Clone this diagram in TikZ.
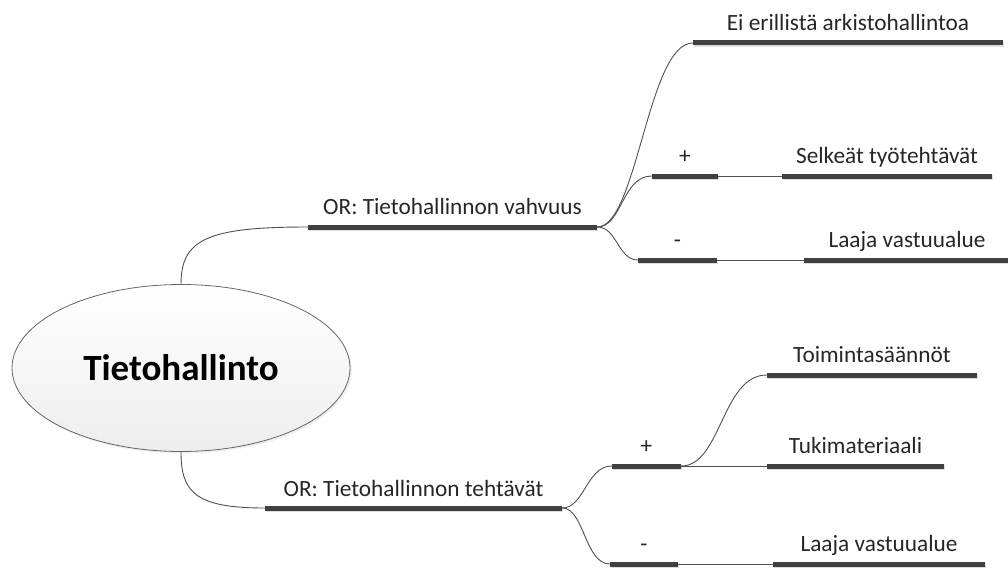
\documentclass[tikz,border=0pt]{standalone}
\usepackage{fontspec}
\setmainfont{Carlito}
\usetikzlibrary{shapes.geometric,shadows}
\definecolor{barc}{HTML}{404040}
\definecolor{linec}{HTML}{505050}
\begin{document}
\begin{tikzpicture}[x=1pt,y=-1pt,
  bar/.style={rectangle,inner sep=0pt,minimum height=5pt,fill=barc,
    drop shadow={shadow xshift=1pt,shadow yshift=-1.5pt,opacity=0.25,fill=gray}},
  lbl/.style={font=\fontsize{23.3}{27}\selectfont,text=black!85,inner sep=0pt,anchor=base},
  conn/.style={draw=linec,line width=0.9pt},
  rootnode/.style={ellipse,draw=black!60,line width=0.8pt,top color=white,bottom color=black!7,
    minimum width=338pt,minimum height=167pt,inner sep=0pt,
    drop shadow={shadow xshift=2pt,shadow yshift=-2pt,opacity=0.12,fill=gray},
    font=\fontsize{37}{42}\selectfont\bfseries}
]
\useasboundingbox (0,0) rectangle (1008,567);

% central topic
\node[rootnode] (root) at (181,368) {Tietohallinto};

% main branches
\node[bar,minimum width=289pt] (vah) at (452.5,227) {};
\node[lbl] (vahT) at (452.5,214) {OR: Tietohallinnon vahvuus};
\node[bar,minimum width=297pt] (teh) at (413.5,508) {};
\node[lbl] (tehT) at (413.5,496) {OR: Tietohallinnon tehtävät};

% subtopics of the first branch
\node[bar,minimum width=310pt] (ei) at (848,43) {};
\node[lbl] (eiT) at (848,31) {Ei erillistä arkistohallintoa};
\node[bar,minimum width=66pt] (p1) at (685,176) {};
\node[lbl] (p1T) at (685,163) {+};
\node[bar,minimum width=210pt] (sel) at (887,176) {};
\node[lbl] (selT) at (887,163) {Selkeät työtehtävät};
\node[bar,minimum width=79pt] (m1) at (677.5,260) {};
\node[lbl] (m1T) at (677.5,247) {-};
\node[bar,minimum width=206pt] (laa1) at (907,260) {};
\node[lbl] (laa1T) at (907,247) {Laaja vastuualue};

% subtopics of the second branch
\node[bar,minimum width=69pt] (p2) at (646.5,466) {};
\node[lbl] (p2T) at (646.5,453) {+};
\node[bar,minimum width=210pt] (toi) at (872,375) {};
\node[lbl] (toiT) at (872,362) {Toimintasäännöt};
\node[bar,minimum width=177pt] (tuk) at (855.5,466) {};
\node[lbl] (tukT) at (855.5,453) {Tukimateriaali};
\node[bar,minimum width=68pt] (m2) at (644,564) {};
\node[lbl] (m2T) at (644,551) {-};
\node[bar,minimum width=212pt] (laa2) at (879,564) {};
\node[lbl] (laa2T) at (879,551) {Laaja vastuualue};

% connectors
\draw[conn] (root.north) .. controls +(0,-45) and +(-100,0) .. (vah.west);
\draw[conn] (root.south) .. controls +(0,40) and +(-70,0) .. (teh.west);

\draw[conn] (vah.east) .. controls +(40,0) and +(-45,0) .. (ei.west);
\draw[conn] (vah.east) .. controls +(25,0) and +(-30,0) .. (p1.west);
\draw[conn] (vah.east) .. controls +(20,0) and +(-20,0) .. (m1.west);
\draw[conn] (p1.east) -- (sel.west);
\draw[conn] (m1.east) -- (laa1.west);

\draw[conn] (teh.east) .. controls +(22,0) and +(-25,0) .. (p2.west);
\draw[conn] (teh.east) .. controls +(22,0) and +(-25,0) .. (m2.west);
\draw[conn] (p2.east) .. controls +(40,0) and +(-45,0) .. (toi.west);
\draw[conn] (p2.east) -- (tuk.west);
\draw[conn] (m2.east) -- (laa2.west);
\end{tikzpicture}
\end{document}
